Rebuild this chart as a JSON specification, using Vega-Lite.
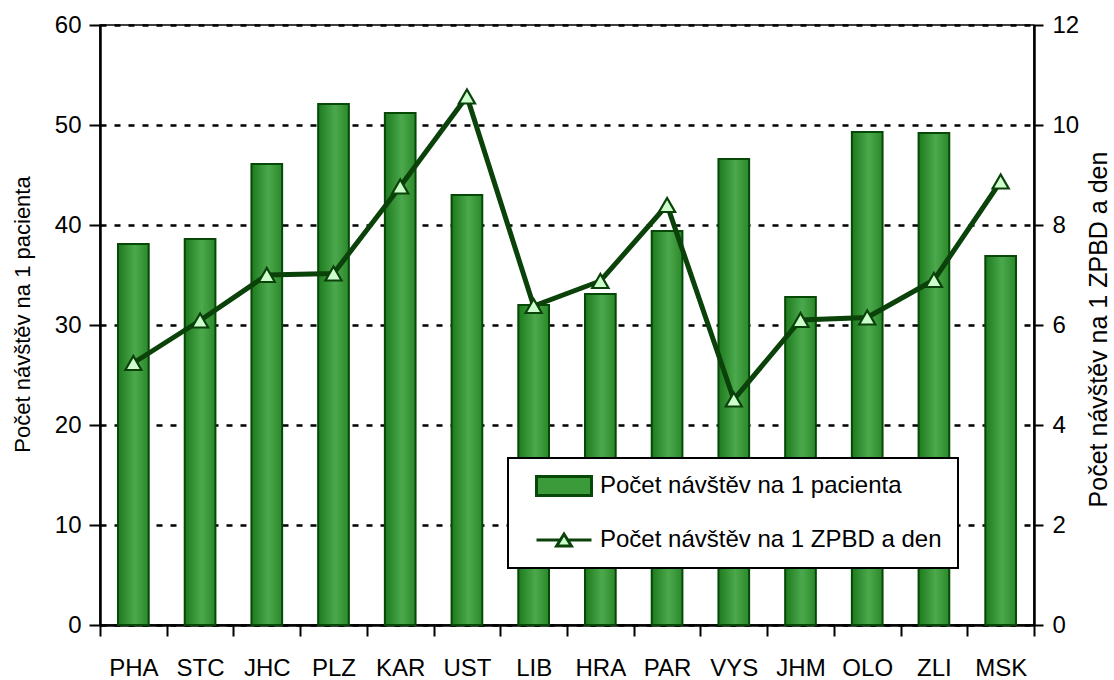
{
  "$schema": "https://vega.github.io/schema/vega-lite/v6.json",
  "width": 934,
  "height": 600,
  "autosize": "none",
  "padding": {"left": 100, "top": 25, "right": 80, "bottom": 55},
  "background": "white",
  "config": {
    "view": {"stroke": "black", "strokeWidth": 1.5},
    "font": "Liberation Sans",
    "legend": {
      "strokeColor": "black",
      "strokeWidth": 2,
      "fillColor": "white",
      "padding": 16,
      "symbolSize": 400,
      "symbolOffset": 28,
      "symbolStrokeWidth": 3,
      "symbolOpacity": 1,
      "labelFont": "Liberation Sans",
      "labelFontSize": 24,
      "labelLimit": 0,
      "labelColor": "black",
      "labelOffset": 24,
      "rowPadding": 26
    }
  },
  "data": {
    "values": [
      {"kraj": "PHA", "Počet návštěv na 1 pacienta": 38.1, "Počet návštěv na 1 ZPBD a den": 5.24},
      {"kraj": "STC", "Počet návštěv na 1 pacienta": 38.6, "Počet návštěv na 1 ZPBD a den": 6.09},
      {"kraj": "JHC", "Počet návštěv na 1 pacienta": 46.1, "Počet návštěv na 1 ZPBD a den": 7.0},
      {"kraj": "PLZ", "Počet návštěv na 1 pacienta": 52.1, "Počet návštěv na 1 ZPBD a den": 7.03},
      {"kraj": "KAR", "Počet návštěv na 1 pacienta": 51.2, "Počet návštěv na 1 ZPBD a den": 8.77},
      {"kraj": "UST", "Počet návštěv na 1 pacienta": 43.0, "Počet návštěv na 1 ZPBD a den": 10.57},
      {"kraj": "LIB", "Počet návštěv na 1 pacienta": 32.0, "Počet návštěv na 1 ZPBD a den": 6.38},
      {"kraj": "HRA", "Počet návštěv na 1 pacienta": 33.1, "Počet návštěv na 1 ZPBD a den": 6.88},
      {"kraj": "PAR", "Počet návštěv na 1 pacienta": 39.4, "Počet návštěv na 1 ZPBD a den": 8.4},
      {"kraj": "VYS", "Počet návštěv na 1 pacienta": 46.6, "Počet návštěv na 1 ZPBD a den": 4.51},
      {"kraj": "JHM", "Počet návštěv na 1 pacienta": 32.8, "Počet návštěv na 1 ZPBD a den": 6.1},
      {"kraj": "OLO", "Počet návštěv na 1 pacienta": 49.3, "Počet návštěv na 1 ZPBD a den": 6.15},
      {"kraj": "ZLI", "Počet návštěv na 1 pacienta": 49.2, "Počet návštěv na 1 ZPBD a den": 6.9},
      {"kraj": "MSK", "Počet návštěv na 1 pacienta": 36.9, "Počet návštěv na 1 ZPBD a den": 8.87}
    ]
  },
  "encoding": {
    "x": {
      "field": "kraj",
      "type": "nominal",
      "sort": null,
      "title": null,
      "scale": {"paddingInner": 0, "paddingOuter": 0},
      "axis": {
        "labelAngle": 0,
        "tickBand": "extent",
        "domainColor": "black",
        "domainWidth": 2.5,
        "tickColor": "black",
        "tickWidth": 2,
        "tickSize": 11,
        "labelFont": "Liberation Sans",
        "labelFontSize": 24,
        "labelColor": "black",
        "labelPadding": 20
      }
    }
  },
  "layer": [
    {
      "mark": {
        "type": "bar",
        "width": {"band": 0.46},
        "fill": {
          "gradient": "linear",
          "x1": 0, "y1": 0, "x2": 1, "y2": 0,
          "stops": [
            {"offset": 0, "color": "#1d7a1d"},
            {"offset": 0.55, "color": "#4ca84c"},
            {"offset": 1, "color": "#2a892a"}
          ]
        },
        "stroke": "#064806",
        "strokeWidth": 2
      },
      "encoding": {
        "y": {
          "field": "Počet návštěv na 1 pacienta",
          "type": "quantitative",
          "scale": {"domain": [0, 60]},
          "axis": {
            "values": [0, 10, 20, 30, 40, 50, 60],
            "grid": true,
            "gridColor": "black",
            "gridDash": [6, 8],
            "gridWidth": 2.5,
            "domainColor": "black",
            "domainWidth": 2.5,
            "tickColor": "black",
            "tickWidth": 2,
            "tickSize": 11,
            "labelFont": "Liberation Sans",
            "labelFontSize": 24,
            "labelColor": "black",
            "labelPadding": 8,
            "title": "Počet návštěv na 1 pacienta",
            "titleFont": "Liberation Sans",
            "titleFontSize": 22,
            "titleFontWeight": "normal",
            "titleColor": "black",
            "titlePadding": 20,
            "titleY": 289
          }
        }
      }
    },
    {
      "mark": {
        "type": "line",
        "color": "#0a420a",
        "strokeWidth": 5,
        "point": {
          "shape": "triangle-up",
          "filled": true,
          "fill": "#ccffcc",
          "stroke": "#0a420a",
          "strokeWidth": 2.2,
          "size": 260,
          "opacity": 1
        }
      },
      "encoding": {
        "y": {
          "field": "Počet návštěv na 1 ZPBD a den",
          "type": "quantitative",
          "scale": {"domain": [0, 12]},
          "axis": {
            "orient": "right",
            "values": [0, 2, 4, 6, 8, 10, 12],
            "grid": false,
            "domainColor": "black",
            "domainWidth": 2.5,
            "tickColor": "black",
            "tickWidth": 2,
            "tickSize": 9,
            "labelFont": "Liberation Sans",
            "labelFontSize": 24,
            "labelColor": "black",
            "labelPadding": 9,
            "title": "Počet návštěv na 1 ZPBD a den",
            "titleFont": "Liberation Sans",
            "titleFontSize": 25,
            "titleFontWeight": "normal",
            "titleColor": "black",
            "titleAngle": 270,
            "titleBaseline": "top",
            "titlePadding": 8,
            "titleY": 304
          }
        }
      }
    },
    {
      "transform": [
        {"fold": ["Počet návštěv na 1 pacienta", "Počet návštěv na 1 ZPBD a den"], "as": ["series", "v"]}
      ],
      "mark": {"type": "point", "filled": true, "clip": true, "strokeWidth": 3},
      "encoding": {
        "y": {"field": "v", "type": "quantitative", "scale": {"domain": [1000, 2000]}, "axis": null},
        "shape": {
          "field": "series",
          "type": "nominal",
          "scale": {
            "domain": ["Počet návštěv na 1 pacienta", "Počet návštěv na 1 ZPBD a den"],
            "range": ["M-2.75,-0.95H2.75V0.95H-2.75Z", "M-2.75,0H-0.37M0.37,0H2.75M-0.74,0.6L0,-0.6L0.74,0.6Z"]
          },
          "legend": {"title": null, "orient": "none", "legendX": 408, "legendY": 433}
        },
        "fill": {
          "field": "series",
          "type": "nominal",
          "scale": {
            "domain": ["Počet návštěv na 1 pacienta", "Počet návštěv na 1 ZPBD a den"],
            "range": ["#3b9b3b", "#ccffcc"]
          },
          "legend": {"title": null, "orient": "none", "legendX": 408, "legendY": 433}
        },
        "stroke": {
          "field": "series",
          "type": "nominal",
          "scale": {
            "domain": ["Počet návštěv na 1 pacienta", "Počet návštěv na 1 ZPBD a den"],
            "range": ["#064806", "#0a420a"]
          },
          "legend": {"title": null, "orient": "none", "legendX": 408, "legendY": 433}
        }
      }
    }
  ],
  "resolve": {"scale": {"y": "independent"}}
}
